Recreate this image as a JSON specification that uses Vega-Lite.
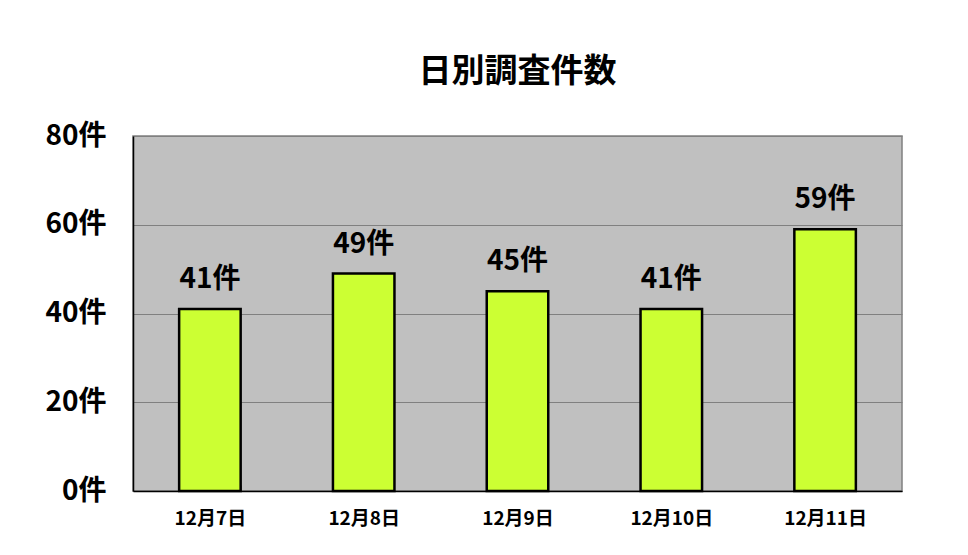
{
  "$schema": "https://vega.github.io/schema/vega-lite/v6.json",
  "width": 769,
  "height": 355,
  "autosize": {"type": "none"},
  "padding": {"left": 133, "top": 136, "right": 66, "bottom": 64},
  "background": "#ffffff",
  "title": {
    "text": "日別調査件数",
    "font": "Noto Sans CJK JP",
    "fontSize": 33,
    "fontWeight": "bold",
    "color": "#000000",
    "anchor": "middle",
    "offset": 33
  },
  "config": {
    "view": {"fill": "#C0C0C0", "stroke": "#808080", "strokeWidth": 1.5},
    "font": "Noto Sans CJK JP"
  },
  "data": {
    "values": [
      {"date": "12月7日", "count": 41},
      {"date": "12月8日", "count": 49},
      {"date": "12月9日", "count": 45},
      {"date": "12月10日", "count": 41},
      {"date": "12月11日", "count": 59}
    ]
  },
  "transform": [{"calculate": "datum.count + '件'", "as": "label"}],
  "encoding": {
    "x": {
      "field": "date",
      "type": "nominal",
      "sort": null,
      "scale": {"paddingInner": 0.6, "paddingOuter": 0.3},
      "axis": {
        "title": null,
        "labelAngle": 0,
        "labelFont": "Noto Sans CJK JP",
        "labelFontSize": 19,
        "labelFontWeight": "bold",
        "labelColor": "#000000",
        "labelPadding": 24,
        "domainColor": "#000000",
        "domainWidth": 1.5,
        "ticks": true,
        "tickBand": "extent",
        "tickSize": -6,
        "tickColor": "#808080",
        "grid": false
      }
    },
    "y": {
      "field": "count",
      "type": "quantitative",
      "scale": {"domain": [0, 80]},
      "axis": {
        "title": null,
        "values": [0, 20, 40, 60, 80],
        "labelExpr": "datum.value + '件'",
        "labelFont": "Noto Sans CJK JP",
        "labelFontSize": 28,
        "labelFontWeight": "bold",
        "labelColor": "#000000",
        "labelPadding": 27,
        "ticks": false,
        "domainColor": "#000000",
        "domainWidth": 1.5,
        "gridColor": "#808080",
        "gridWidth": 1
      }
    }
  },
  "layer": [
    {
      "mark": {"type": "bar", "fill": "#CCFF33", "stroke": "#000000", "strokeWidth": 2.5}
    },
    {
      "mark": {
        "type": "text",
        "dy": -29,
        "font": "Noto Sans CJK JP",
        "fontSize": 28,
        "fontWeight": "bold",
        "color": "#000000"
      },
      "encoding": {
        "text": {"field": "label", "type": "nominal"}
      }
    }
  ]
}
